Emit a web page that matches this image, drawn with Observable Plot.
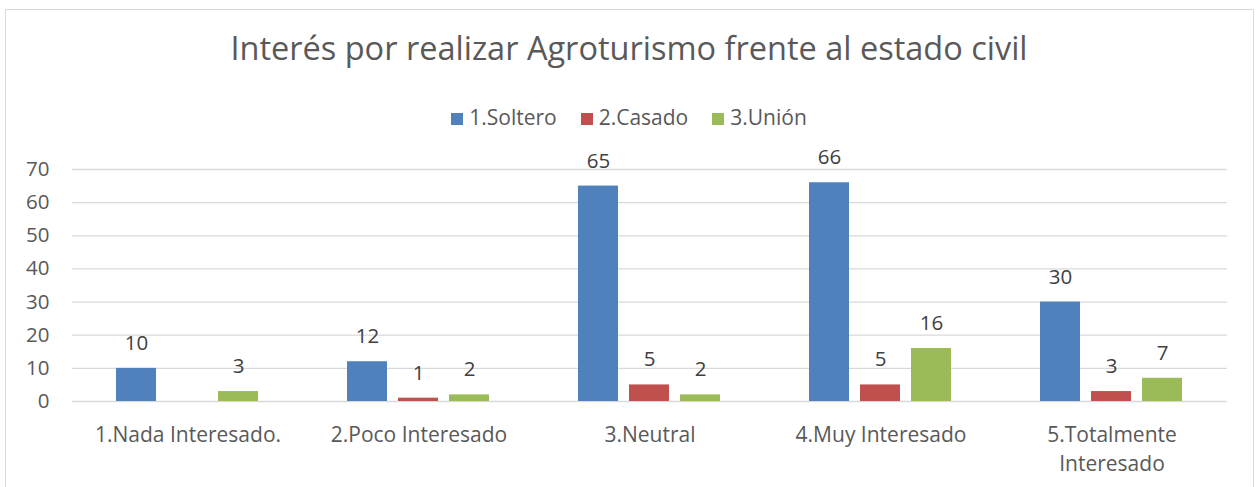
<!DOCTYPE html>
<html>
<head>
<meta charset="utf-8">
<script src="https://cdn.jsdelivr.net/npm/d3@7"></script>
<script src="https://cdn.jsdelivr.net/npm/@observablehq/plot@0.6"></script>
<style>
  html, body { margin: 0; padding: 0; background: #fff; }
  body { width: 1258px; height: 487px; overflow: hidden; position: relative; font-family: "Open Sans", sans-serif; }
  #frame { position: absolute; left: 5px; top: 9px; width: 1249px; height: 490px; border: 1.5px solid #d9d9d9; box-sizing: border-box; }
  #title { position: absolute; left: 0; width: 1258px; top: 26px; text-align: center; font-size: 32.5px; color: #595959; line-height: 44px; white-space: nowrap; }
  #legend { position: absolute; left: 0; width: 1258px; top: 102px; text-align: center; font-size: 21px; color: #595959; line-height: 30px; white-space: nowrap; }
  #legend span.item { display: inline-block; margin: 0 12px; }
  #legend span.sw { display: inline-block; width: 12px; height: 12px; margin-right: 6px; vertical-align: 0px; }
  #chart { position: absolute; left: 0; top: 140px; }
</style>
</head>
<body>
<div id="frame"></div>
<div id="title">Interés por realizar Agroturismo frente al estado civil</div>
<div id="legend"></div>
<div id="chart"></div>
<script>
const categories = ["1.Nada Interesado.", "2.Poco Interesado", "3.Neutral", "4.Muy Interesado", "5.Totalmente Interesado"];
const categoryLabels = ["1.Nada Interesado.", "2.Poco Interesado", "3.Neutral", "4.Muy Interesado", "5.Totalmente\nInteresado"];
const series = ["1.Soltero", "2.Casado", "3.Unión"];
const soltero = [10, 12, 65, 66, 30];
const casado = [0, 1, 5, 5, 3];
const union = [3, 2, 2, 16, 7];
const yTicks = [0, 10, 20, 30, 40, 50, 60, 70];
const colors = ["#4F81BD", "#C0504D", "#9BBB59"];

const values = [soltero, casado, union];
const data = [];
categories.forEach((c, i) => {
  series.forEach((s, j) => {
    data.push({cat: c, series: s, value: values[j][i]});
  });
});

// legend
const legend = document.getElementById("legend");
series.forEach((s, j) => {
  const it = document.createElement("span");
  it.className = "item";
  it.innerHTML = `<span class="sw" style="background:${colors[j]}"></span>${s}`;
  legend.appendChild(it);
});

const labelOf = new Map(categories.map((c, i) => [c, categoryLabels[i]]));

const chart = Plot.plot({
  width: 1258,
  height: 347,
  marginLeft: 70,
  marginRight: 29,
  marginTop: 29,
  marginBottom: 86,
  style: {fontFamily: "Open Sans, sans-serif", fontSize: "20px", color: "#595959", background: "transparent"},
  fx: {domain: categories, padding: 0, label: null},
  x: {domain: series, paddingInner: 0.21, paddingOuter: 0.855, axis: null},
  y: {domain: [0, 70], axis: null},
  color: {domain: series, range: colors},
  marks: [
    Plot.ruleY(yTicks, {stroke: "#d9d9d9", strokeWidth: 1.3}),
    Plot.barY(data, {fx: "cat", x: "series", y: "value", fill: "series"}),
    Plot.text(data.filter(d => d.value > 0), {fx: "cat", x: "series", y: "value", text: d => String(d.value), dy: -25, fill: "#404040", fontSize: 20.5}),
    Plot.axisY({ticks: yTicks, tickSize: 0, tickPadding: 23, label: null, fontSize: 20.5, fill: "#595959"}),
    Plot.axisFx({anchor: "bottom", tickSize: 0, tickPadding: 19, label: null, fontSize: 21, fill: "#595959", lineHeight: 1.42, tickFormat: d => labelOf.get(d)})
  ]
});
document.getElementById("chart").appendChild(chart);
</script>
</body>
</html>
